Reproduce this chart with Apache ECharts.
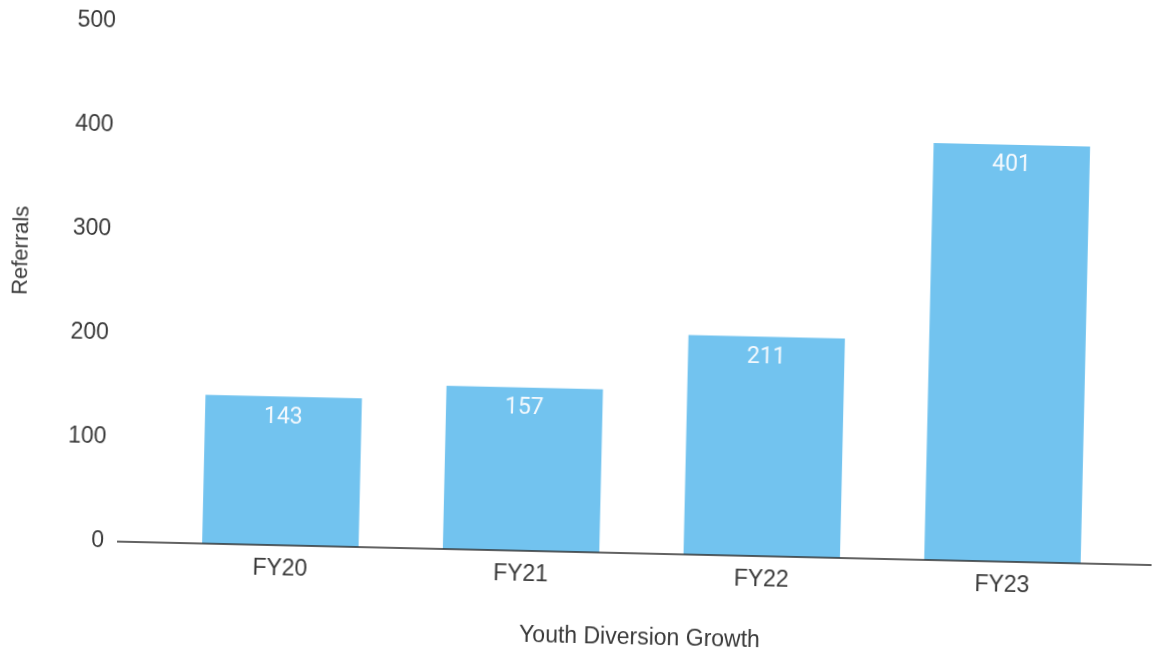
<!DOCTYPE html>
<html>
<head>
<meta charset="utf-8">
<script src="https://cdn.jsdelivr.net/npm/echarts@6/dist/echarts.min.js"></script>
<style>
  html, body { margin: 0; padding: 0; background: #ffffff; }
  #chart {
    width: 1157px; height: 655px;
    /* the printed page sits slightly askew */
    transform: rotate(1.3deg);
    transform-origin: 578.5px 327.5px;
  }
</style>
</head>
<body>
<div id="chart"></div>
<script>
// Youth diversion referrals by fiscal year
const categories = ['FY20', 'FY21', 'FY22', 'FY23'];
const referrals = [143, 157, 211, 401];
const yTicks = [0, 100, 200, 300, 400, 500];

const axisFont = '"Liberation Sans", Arial, sans-serif';
const chart = echarts.init(document.getElementById('chart'));

chart.setOption({
  animation: false,
  backgroundColor: '#ffffff',
  grid: { left: 165, right: 29, top: 32, bottom: 103, containLabel: false },
  xAxis: {
    type: 'category',
    data: categories,
    axisLine: { show: false },
    axisTick: { show: false },
    axisLabel: { color: '#3a3a3a', fontSize: 23, fontFamily: axisFont, margin: 12 },
    name: 'Youth Diversion Growth',
    nameLocation: 'middle',
    nameGap: 73,
    nameTextStyle: { color: '#3a3a3a', fontSize: 23, fontFamily: axisFont }
  },
  yAxis: {
    type: 'value',
    min: yTicks[0],
    max: yTicks[yTicks.length - 1],
    interval: yTicks[1] - yTicks[0],
    splitLine: { show: false },
    axisLine: { show: false },
    axisTick: { show: false },
    axisLabel: { color: '#3a3a3a', fontSize: 23, fontFamily: axisFont, margin: 56 }
  },
  series: [{
    type: 'bar',
    data: referrals,
    barCategoryGap: '35%',
    itemStyle: { color: '#72c3ef' },
    label: {
      show: true,
      position: 'insideTop',
      distance: 9,
      color: '#f4f9fd',
      fontSize: 23,
      fontFamily: 'Roboto, sans-serif'
    }
  }]
});

// baseline runs past the plot on both sides; y-axis title sits above centre
const zeroY = chart.convertToPixel({ yAxisIndex: 0 }, 0);
chart.setOption({
  graphic: [
    {
      type: 'line',
      shape: { x1: 122, y1: zeroY, x2: 1170, y2: zeroY },
      style: { stroke: '#2e2e2e', lineWidth: 1.6 },
      z: 10
    },
    {
      type: 'text',
      x: 20, y: 263,
      rotation: Math.PI / 2,
      style: {
        text: 'Referrals',
        fill: '#3a3a3a',
        font: '22px "Liberation Sans", Arial, sans-serif',
        textAlign: 'center',
        textVerticalAlign: 'middle'
      }
    }
  ]
});
</script>
</body>
</html>
